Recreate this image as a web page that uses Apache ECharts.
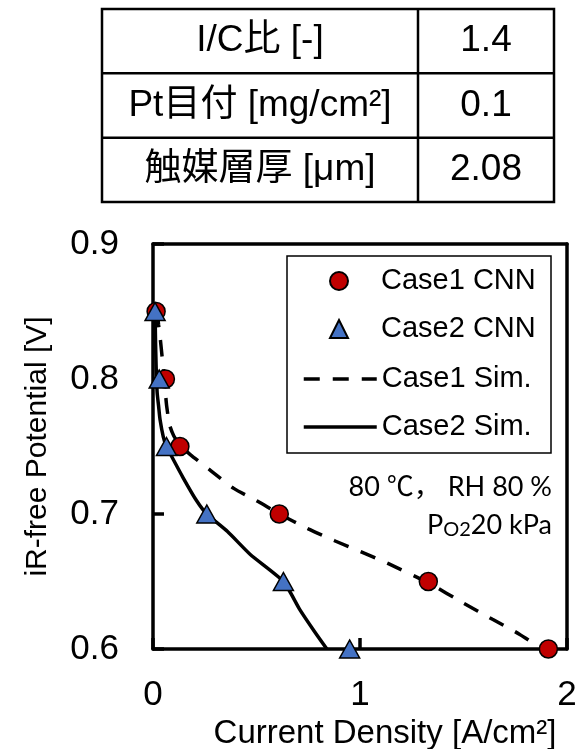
<!DOCTYPE html>
<html><head><meta charset="utf-8">
<script src="https://cdn.jsdelivr.net/npm/echarts@6/dist/echarts.min.js"></script>
<style>html,body{margin:0;padding:0;background:#fff}#c{width:576px;height:749px}</style>
</head><body><div id="c"></div>
<script>
// ---- data ----
const tableLabels = ['I/C比 [-]', 'Pt目付 [mg/cm²]', '触媒層厚 [μm]'];
const tableValues = ['1.4', '0.1', '2.08'];
const xTickLabels = ['0', '1', '2'];
const yTickLabels = ['0.6', '0.7', '0.8', '0.9'];
const seriesNames = ['Case1 CNN', 'Case2 CNN', 'Case1 Sim.', 'Case2 Sim.'];
const case1CNN = [[0.015,0.85],[0.06,0.80],[0.13,0.75],[0.61,0.70],[1.33,0.65],[1.91,0.60]];
const case2CNN = [[0.01,0.85],[0.03,0.80],[0.065,0.75],[0.26,0.70],[0.63,0.65],[0.95,0.60]];
const case1Sim = [[0.02,0.85],[0.027,0.84],[0.035,0.83],[0.045,0.815],[0.055,0.80],[0.06,0.79],[0.066,0.78],[0.08,0.766],[0.10,0.758],[0.13,0.751],[0.18,0.744],[0.28,0.732],[0.39,0.719],[0.51,0.709],[0.61,0.70],[0.75,0.689],[0.88,0.680],[1.02,0.671],[1.14,0.663],[1.33,0.649],[1.50,0.634],[1.64,0.622],[1.77,0.611],[1.88,0.60]];
const case2Sim = [[0.01,0.85],[0.012,0.83],[0.015,0.81],[0.02,0.79],[0.027,0.78],[0.034,0.77],[0.05,0.757],[0.065,0.75],[0.082,0.745],[0.145,0.727],[0.21,0.71],[0.26,0.70],[0.36,0.687],[0.47,0.670],[0.63,0.65],[0.71,0.629],[0.78,0.613],[0.84,0.60]];
const noteLines = ['80 ℃， RH 80 %', 'P{sub|O2}20 kPa'];

// ---- chart ----
const FONT = "'Liberation Sans', Arial, 'Noto Sans CJK JP', sans-serif";
const NOTE_FONT = "Lato, 'Noto Sans CJK JP', sans-serif";
const chart = echarts.init(document.getElementById('c'), null, {renderer: 'canvas'});

// table graphic
const tX = 102, tY = 9, tW = 452, tH = 193, colX = 418;
const rowH = tH / tableLabels.length;
const tableEls = [{
  type: 'rect', shape: {x: tX, y: tY, width: tW, height: tH},
  style: {fill: '#fff', stroke: '#000', lineWidth: 2.5}
}, {
  type: 'line', shape: {x1: colX, y1: tY, x2: colX, y2: tY + tH},
  style: {stroke: '#000', lineWidth: 2.5}
}];
tableLabels.forEach((lab, i) => {
  if (i > 0) tableEls.push({type: 'line', shape: {x1: tX, y1: tY + rowH * i, x2: tX + tW, y2: tY + rowH * i}, style: {stroke: '#000', lineWidth: 2.5}});
  const cy = tY + rowH * (i + 0.5);
  tableEls.push({type: 'text', style: {text: lab, x: (tX + colX) / 2, y: cy, textAlign: 'center', textVerticalAlign: 'middle', align: 'center', verticalAlign: 'middle', fontSize: 37, fontFamily: FONT, fill: '#000'}});
  tableEls.push({type: 'text', style: {text: tableValues[i], x: (colX + tX + tW) / 2, y: cy, textAlign: 'center', textVerticalAlign: 'middle', align: 'center', verticalAlign: 'middle', fontSize: 37, fontFamily: FONT, fill: '#000'}});
});

const noteEls = noteLines.map((t, i) => ({
  type: 'text', z: 10,
  style: {
    text: t, x: 552, y: 487 + i * 38,
    textAlign: 'right', align: 'right', textVerticalAlign: 'middle', verticalAlign: 'middle',
    fontSize: 27, fontFamily: NOTE_FONT, fill: '#000', lineHeight: 30,
    rich: {sub: {fontSize: 20, lineHeight: 14, verticalAlign: 'bottom', fontFamily: NOTE_FONT, fill: '#000'}}
  }
}));

const legendBox = {type: 'rect', z: 5, shape: {x: 287, y: 256, width: 264, height: 197}, style: {fill: '#fff', stroke: '#000', lineWidth: 1.5}};

const axisLineStyle = {color: '#000', width: 3.5};
const frameAxis = {
  type: 'value', axisLine: {show: true, onZero: false, lineStyle: axisLineStyle},
  axisTick: {show: false}, axisLabel: {show: false}, splitLine: {show: false}
};
const option = {
  animation: false,
  backgroundColor: '#fff',
  grid: {left: 153, top: 244, width: 414, height: 405, show: false, containLabel: false, outerBoundsMode: 'none'},
  graphic: [...tableEls, legendBox, ...noteEls],
  legend: [{
    data: [seriesNames[0], seriesNames[1]],
    orient: 'vertical', left: 329, top: 266, padding: 0,
    itemWidth: 18, itemHeight: 18, itemGap: 18, selectedMode: false, z: 6,
    textStyle: {fontSize: 29, lineHeight: 30, fontFamily: FONT, color: '#000', padding: [0, 0, 0, 28]}
  }, {
    data: [seriesNames[2], seriesNames[3]],
    orient: 'vertical', left: 302, top: 364, padding: 0,
    itemWidth: 73, itemHeight: 18, itemGap: 18, selectedMode: false, z: 6,
    itemStyle: {color: 'rgba(0,0,0,0)', borderWidth: 0, opacity: 0},
    lineStyle: {width: 3.5},
    textStyle: {fontSize: 29, lineHeight: 30, fontFamily: FONT, color: '#000'}
  }],
  xAxis: [{
    type: 'value', min: 0, max: 2, interval: 1,
    axisLine: {show: true, onZero: false, lineStyle: axisLineStyle},
    axisTick: {show: true, inside: true, length: 11, lineStyle: {color: '#000', width: 3.5}},
    splitLine: {show: false},
    axisLabel: {fontSize: 35, margin: 29, color: '#000', fontFamily: FONT,
      formatter: v => xTickLabels[Math.round(v)]},
    name: 'Current Density [A/cm²]', nameLocation: 'middle', nameGap: 66,
    nameTextStyle: {fontSize: 33, color: '#000', fontFamily: FONT, padding: [0, 0, 0, 50]}
  }, Object.assign({position: 'top', min: 0, max: 2}, frameAxis)],
  yAxis: [{
    type: 'value', min: 0.6, max: 0.9, interval: 0.1,
    axisLine: {show: true, onZero: false, lineStyle: axisLineStyle},
    axisTick: {show: true, inside: true, length: 11, lineStyle: {color: '#000', width: 3.5}},
    splitLine: {show: false},
    axisLabel: {fontSize: 35, margin: 34, color: '#000', fontFamily: FONT,
      formatter: v => yTickLabels[Math.round((v - 0.6) * 10)]},
    name: 'iR-free Potential [V]', nameLocation: 'middle', nameGap: 100,
    nameTextStyle: {fontSize: 30, color: '#000', fontFamily: FONT}
  }, Object.assign({position: 'right', min: 0.6, max: 0.9}, frameAxis)],
  series: [{
    name: seriesNames[2], type: 'line', data: case1Sim, symbol: 'none', z: 2, smooth: 0.2,
    lineStyle: {color: '#000', width: 3.5, type: [16, 13]}, itemStyle: {color: 'rgba(0,0,0,0)', borderWidth: 0}
  }, {
    name: seriesNames[3], type: 'line', data: case2Sim, symbol: 'none', z: 2, smooth: 0.2,
    lineStyle: {color: '#000', width: 3.5, type: 'solid'}, itemStyle: {color: 'rgba(0,0,0,0)', borderWidth: 0}
  }, {
    name: seriesNames[0], type: 'scatter', data: case1CNN, symbol: 'circle', symbolSize: 18, z: 4,
    itemStyle: {color: '#C00000', borderColor: '#000', borderWidth: 1.5, opacity: 1}
  }, {
    name: seriesNames[1], type: 'scatter', data: case2CNN, symbol: 'triangle', symbolSize: [20, 18], z: 4,
    itemStyle: {color: '#4472C4', borderColor: '#000', borderWidth: 1.5, opacity: 1}
  }]
};
chart.setOption(option);
</script></body></html>
